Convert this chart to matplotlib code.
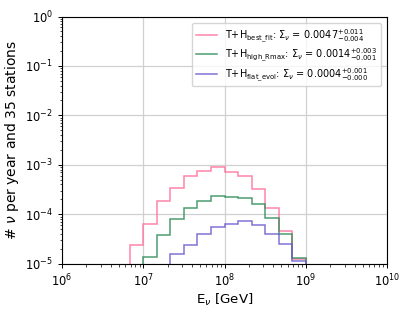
import numpy as np
import matplotlib
matplotlib.use("Agg")
import matplotlib.pyplot as plt

# bin edges: log10(E/GeV) from 6.833 to 9.0 in steps of 1/6 decade
log_edges = [6 + k / 6 for k in range(5, 19)]
edges = [10 ** e for e in log_edges]

best_fit = [2.35e-5, 6.5e-5, 1.86e-4, 3.47e-4, 5.96e-4, 7.4e-4, 9.06e-4,
            7.3e-4, 5.96e-4, 3.3e-4, 1.37e-4, 4.5e-5, 1.25e-5]
high_rmax = [0, 1.39e-5, 3.8e-5, 7.9e-5, 1.32e-4, 1.83e-4, 2.35e-4,
             2.28e-4, 2.1e-4, 1.59e-4, 8.3e-5, 4.06e-5, 1.29e-5]
flat_evol = [0, 0, 0, 1.55e-5, 2.4e-5, 3.94e-5, 5.6e-5,
             6.3e-5, 7.2e-5, 6.07e-5, 4.06e-5, 2.47e-5, 1.13e-5]

labels = [
    r'T+H$_{\rm best\_fit}$: $\Sigma_\nu$ = 0.0047$^{+0.011}_{-0.004}$',
    r'T+H$_{\rm high\_Rmax}$: $\Sigma_\nu$ = 0.0014$^{+0.003}_{-0.001}$',
    r'T+H$_{\rm flat\_evol}$: $\Sigma_\nu$ = 0.0004$^{+0.001}_{-0.000}$',
]
colors = ['#ff6f9a', '#2e8b57', '#6a5acd']

fig = plt.figure(figsize=(4.13, 3.10), dpi=100)
ax = fig.add_axes([62 / 413, 1 - 263.7 / 310, (387 - 62) / 413, (263.7 - 16.5) / 310])

for vals, lab, col in zip([best_fit, high_rmax, flat_evol], labels, colors):
    v = np.array(vals, dtype=float)
    v[v == 0] = 1e-8
    ax.stairs(v, edges, baseline=1e-8, color=col, lw=1.1, alpha=0.85, label=lab)

ax.set_xscale('log')
ax.set_yscale('log')
ax.set_xlim(1e6, 1e10)
ax.set_ylim(1e-5, 1)
ax.grid(True, which='major', color='#d0d0d0', lw=0.9)
ax.set_axisbelow(True)
ax.tick_params(labelsize=8.3, length=3, width=0.7)
ax.tick_params(which='minor', length=1.8, width=0.5)
for s in ax.spines.values():
    s.set_linewidth(0.8)
ax.set_xlabel(r'E$_\nu$ [GeV]', fontsize=9.6, labelpad=2)
ax.set_ylabel(r'# $\nu$ per year and 35 stations', fontsize=10, labelpad=3)
ax.legend(loc='upper right', fontsize=7.0, handlelength=2.2, framealpha=0.8,
          borderaxespad=0.65, labelspacing=0.25)

fig.savefig('out.png', dpi=100)
